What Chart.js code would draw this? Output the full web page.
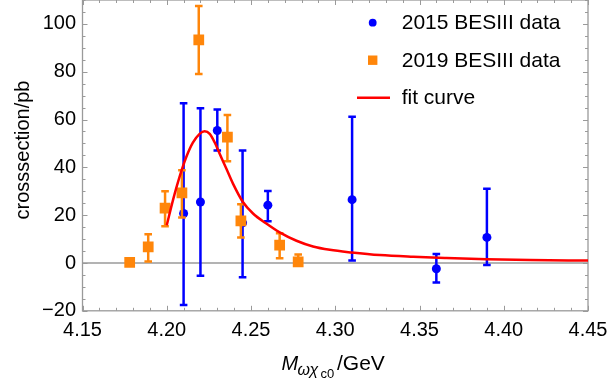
<!DOCTYPE html>
<html>
<head>
<meta charset="utf-8">
<script src="https://cdn.jsdelivr.net/npm/chart.js@4.4.0/dist/chart.umd.min.js"></script>
<style>
    html, body { margin: 0; padding: 0; background: #fff; }
    #c { display: block; }
</style>
</head>
<body>
<canvas id="c" width="610" height="388"></canvas>
<script>
// Tick labels
const xTicks = [4.15, 4.20, 4.25, 4.30, 4.35, 4.40, 4.45];
const yTicks = [-20, 0, 20, 40, 60, 80, 100];

// 2015 BESIII data
const energy2015 = [4.21, 4.22, 4.23, 4.245, 4.26, 4.31, 4.36, 4.39];
const sigma2015 = [20.7, 25.5, 55.4, 16.8, 24.2, 26.5, -2.4, 10.7];
const upper2015 = [66.8, 64.7, 64.2, 47.1, 30.1, 61.2, 3.8, 31.1];
const lower2015 = [-17.6, -5.3, 47.1, -6.0, 17.5, 1.0, -8.2, -0.8];

// 2019 BESIII data
const energy2019 = [4.178, 4.189, 4.199, 4.209, 4.219, 4.236, 4.244, 4.267, 4.278];
const sigma2019 = [0.3, 6.7, 22.9, 29.3, 93.3, 52.6, 17.6, 7.5, 0.5];
const upper2019 = [1.2, 12.0, 30.0, 38.8, 107.5, 61.9, 24.6, 12.4, 3.6];
const lower2019 = [-0.5, 0.6, 15.4, 19.0, 79.0, 42.6, 10.7, 2.0, -0.5];

// fit curve
const fitX = [4.2000, 4.2037, 4.2076, 4.2116, 4.2155, 4.2195, 4.2225, 4.2255, 4.2284, 4.2314,
              4.2354, 4.2393, 4.2452, 4.2512, 4.2591, 4.2670, 4.2770, 4.2868, 4.2968, 4.3097,
              4.3265, 4.3463, 4.3660, 4.3900, 4.4156, 4.4500];
const fitY = [15.8, 26.3, 36.0, 44.3, 50.3, 54.0, 55.1, 54.0, 50.5, 45.7,
              39.4, 33.2, 25.5, 20.7, 16.5, 12.8, 9.3, 6.9, 5.5, 4.4,
              3.3, 2.6, 2.1, 1.6, 1.25, 1.0];

const BLUE = '#0000ff';
const ORANGE = 'rgb(255,134,10)';
const RED = '#ff0000';
const FRAME = '#9a9a9a';
const FONT = '"Liberation Sans", Arial, sans-serif';

const toPoints = (xs, ys) => xs.map((x, i) => ({ x: x, y: ys[i] }));

// error bars, drawn just before the markers of their own dataset
const errorBars = {
    id: 'errorBars',
    beforeDatasetDraw(chart, args) {
        const ds = chart.data.datasets[args.index];
        if (!ds.errHigh) return;
        const { ctx, scales: { x, y } } = chart;
        ctx.save();
        ctx.beginPath();
        ctx.rect(chart.chartArea.left, chart.chartArea.top, chart.chartArea.width, chart.chartArea.height);
        ctx.clip();
        ctx.strokeStyle = ds.backgroundColor;
        ctx.lineWidth = 2.5;
        ds.data.forEach((p, i) => {
            const px = x.getPixelForValue(p.x);
            const top = y.getPixelForValue(ds.errHigh[i]);
            const bot = y.getPixelForValue(ds.errLow[i]);
            ctx.beginPath();
            ctx.moveTo(px, top); ctx.lineTo(px, bot);
            ctx.moveTo(px - 3.8, top); ctx.lineTo(px + 3.8, top);
            ctx.moveTo(px - 3.8, bot); ctx.lineTo(px + 3.8, bot);
            ctx.stroke();
        });
        ctx.restore();
    }
};

// Mathematica style frame with inward ticks, plus the zero line
const frame = {
    id: 'frame',
    beforeDatasetsDraw(chart) {
        const { ctx, chartArea: a, scales: { x, y } } = chart;
        ctx.save();
        ctx.strokeStyle = FRAME;
        ctx.lineWidth = 1.3;
        const y0 = y.getPixelForValue(0);
        ctx.beginPath();
        ctx.moveTo(a.left, y0); ctx.lineTo(a.right, y0);
        ctx.stroke();

        ctx.lineWidth = 1;
        ctx.beginPath();
        for (let i = 0; i <= 30; i++) {
            const px = Math.round(x.getPixelForValue(4.15 + i * 0.01)) + 0.5;
            const len = i % 5 === 0 ? 5 : 3;
            ctx.moveTo(px, a.bottom); ctx.lineTo(px, a.bottom - len);
            ctx.moveTo(px, a.top); ctx.lineTo(px, a.top + len);
        }
        for (let v = -20; v <= 110; v += 5) {
            const py = Math.round(y.getPixelForValue(v)) + 0.5;
            const len = v % 20 === 0 ? 5 : 3;
            ctx.moveTo(a.left, py); ctx.lineTo(a.left + len, py);
            ctx.moveTo(a.right, py); ctx.lineTo(a.right - len, py);
        }
        ctx.stroke();
        ctx.lineWidth = 1.3;
        ctx.strokeRect(a.left, a.top, a.right - a.left, a.bottom - a.top);
        ctx.restore();
    }
};

// legend and axis titles
const labels = {
    id: 'labels',
    afterDraw(chart) {
        const { ctx } = chart;
        ctx.save();
        ctx.fillStyle = '#000';

        // legend
        const rows = chart.data.datasets.slice().reverse();
        rows.forEach((ds, i) => {
            const cy = 22.7 + i * 37.5;
            if (ds.type === 'line') {
                ctx.strokeStyle = RED;
                ctx.lineWidth = 2.5;
                ctx.beginPath();
                ctx.moveTo(357, cy); ctx.lineTo(390, cy);
                ctx.stroke();
            } else if (ds.pointStyle === 'rect') {
                ctx.fillStyle = ORANGE;
                ctx.fillRect(372.7 - 4.7, cy - 4.7, 9.4, 9.4);
            } else {
                ctx.fillStyle = BLUE;
                ctx.beginPath();
                ctx.arc(372.7, cy, 3.9, 0, Math.PI * 2);
                ctx.fill();
            }
            ctx.fillStyle = '#000';
            ctx.font = '21px ' + FONT;
            ctx.textAlign = 'left';
            ctx.textBaseline = 'middle';
            ctx.fillText(ds.label, 401.7, cy + 1);
        });

        // y title
        ctx.save();
        ctx.translate(23, 150);
        ctx.rotate(-Math.PI / 2);
        ctx.font = '20px ' + FONT;
        ctx.textAlign = 'center';
        ctx.textBaseline = 'middle';
        ctx.fillText('crosssection/pb', 0, 0);
        ctx.restore();

        // x title: M_{ωχ_c0}/GeV
        ctx.textAlign = 'left';
        ctx.textBaseline = 'alphabetic';
        ctx.font = 'italic 20px ' + FONT;
        ctx.fillText('M', 281.5, 369.5);
        ctx.font = 'italic 16px ' + FONT;
        ctx.fillText('ωχ', 297.5, 375);
        ctx.font = '13px ' + FONT;
        ctx.fillText('c0', 320.5, 377.7);
        ctx.font = '21px ' + FONT;
        ctx.fillText('/GeV', 337, 369.5);
        ctx.restore();
    }
};

new Chart(document.getElementById('c'), {
    type: 'scatter',
    data: {
        datasets: [
            {
                label: 'fit curve',
                type: 'line',
                data: toPoints(fitX, fitY),
                borderColor: RED,
                borderWidth: 2.5,
                pointRadius: 0,
                cubicInterpolationMode: 'monotone',
                fill: false,
                order: 0
            },
            {
                label: '2019 BESIII data',
                data: toPoints(energy2019, sigma2019),
                errHigh: upper2019,
                errLow: lower2019,
                pointStyle: 'rect',
                pointRadius: 7.6,
                backgroundColor: ORANGE,
                borderWidth: 0,
                order: 1
            },
            {
                label: '2015 BESIII data',
                data: toPoints(energy2015, sigma2015),
                errHigh: upper2015,
                errLow: lower2015,
                pointStyle: 'circle',
                pointRadius: 4.5,
                backgroundColor: BLUE,
                borderWidth: 0,
                order: 2
            }
        ]
    },
    options: {
        responsive: false,
        animation: false,
        devicePixelRatio: 1,
        layout: { autoPadding: false, padding: { top: -1.5, right: 22, left: 0, bottom: 0 } },
        plugins: { legend: { display: false }, tooltip: { enabled: false } },
        scales: {
            x: {
                type: 'linear',
                min: 4.15,
                max: 4.45,
                afterBuildTicks: s => { s.ticks = xTicks.map(v => ({ value: v })); },
                afterFit: s => { s.height = 77.2; s.paddingLeft = 0; s.paddingRight = 0; },
                ticks: {
                    callback: v => v.toFixed(2),
                    font: { family: FONT, size: 20 },
                    color: '#000',
                    padding: 7.7,
                    maxRotation: 0,
                    autoSkip: false
                },
                grid: { display: false, drawTicks: false },
                border: { display: false }
            },
            y: {
                min: -20,
                max: 110,
                afterBuildTicks: s => { s.ticks = yTicks.map(v => ({ value: v })); },
                afterFit: s => { s.width = 82.5; s.paddingTop = 0; s.paddingBottom = 0; },
                ticks: {
                    callback: v => v < 0 ? '\u2212' + Math.abs(v) : String(v),
                    font: { family: FONT, size: 20 },
                    color: '#000',
                    padding: 6.5,
                    autoSkip: false
                },
                grid: { display: false, drawTicks: false },
                border: { display: false }
            }
        }
    },
    plugins: [frame, errorBars, labels]
});
</script>
</body>
</html>
